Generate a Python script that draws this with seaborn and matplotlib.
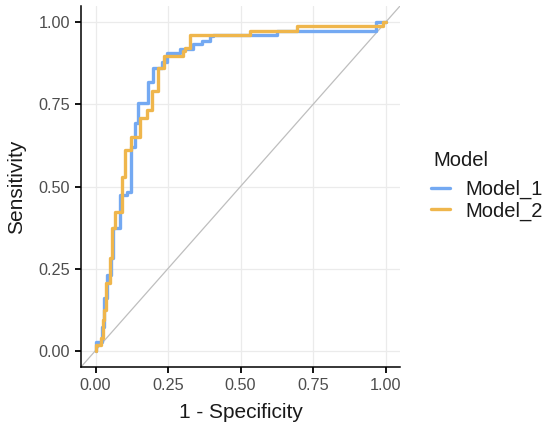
import matplotlib
matplotlib.use("Agg")
import matplotlib.pyplot as plt
import seaborn as sns
import pandas as pd

# ROC step vertices (1 - specificity, sensitivity)
m1_fpr = [0.0, 0.0, 0.022, 0.022, 0.029, 0.029, 0.039, 0.039, 0.053, 0.053,
          0.060, 0.060, 0.086, 0.086, 0.108, 0.108, 0.122, 0.122, 0.136, 0.136,
          0.146, 0.146, 0.180, 0.180, 0.198, 0.198, 0.229, 0.229, 0.246, 0.246,
          0.291, 0.291, 0.336, 0.336, 0.367, 0.367, 0.394, 0.394, 0.405, 0.405,
          0.625, 0.625, 0.967, 0.967, 1.0]
m1_tpr = [0.0, 0.026, 0.026, 0.072, 0.072, 0.160, 0.160, 0.230, 0.230, 0.282,
          0.282, 0.373, 0.373, 0.473, 0.473, 0.482, 0.482, 0.619, 0.619, 0.695,
          0.695, 0.753, 0.753, 0.817, 0.817, 0.862, 0.862, 0.878, 0.878, 0.908,
          0.908, 0.920, 0.920, 0.935, 0.935, 0.944, 0.944, 0.960, 0.960, 0.963,
          0.963, 0.975, 0.975, 1.0, 1.0]

m2_fpr = [0.0, 0.0, 0.018, 0.018, 0.025, 0.025, 0.030, 0.030, 0.036, 0.036,
          0.049, 0.049, 0.058, 0.058, 0.068, 0.068, 0.091, 0.091, 0.103, 0.103,
          0.124, 0.124, 0.153, 0.153, 0.177, 0.177, 0.194, 0.194, 0.215, 0.215,
          0.236, 0.236, 0.301, 0.301, 0.308, 0.308, 0.325, 0.325, 0.532, 0.532,
          0.695, 0.695, 0.991, 0.991, 1.0]
m2_tpr = [0.0, 0.017, 0.017, 0.039, 0.039, 0.093, 0.093, 0.124, 0.124, 0.206,
          0.206, 0.282, 0.282, 0.373, 0.373, 0.422, 0.422, 0.528, 0.528, 0.610,
          0.610, 0.650, 0.650, 0.710, 0.710, 0.732, 0.732, 0.792, 0.792, 0.862,
          0.862, 0.899, 0.899, 0.914, 0.914, 0.923, 0.923, 0.963, 0.963, 0.975,
          0.975, 0.988, 0.988, 1.0, 1.0]

models = ["Model_1", "Model_2"]
colors = ["#74A9F2", "#EFB64C"]
ticks = [0.0, 0.25, 0.5, 0.75, 1.0]
tick_labels = ["0.00", "0.25", "0.50", "0.75", "1.00"]

df = pd.concat([
    pd.DataFrame({"fpr": m1_fpr, "tpr": m1_tpr, "Model": models[0]}),
    pd.DataFrame({"fpr": m2_fpr, "tpr": m2_tpr, "Model": models[1]}),
])

sns.set_theme(style="white")
plt.rcParams["font.family"] = ["Liberation Sans", "DejaVu Sans"]

fig = plt.figure(figsize=(5.5, 4.36), dpi=100)
ax = fig.add_axes([81 / 550, 1 - 367 / 436, 319 / 550, 361 / 436])

# reference diagonal
ax.axline((0, 0), (1, 1), color="#BEBEBE", lw=0.9, zorder=1)

sns.lineplot(data=df, x="fpr", y="tpr", hue="Model", palette=colors,
             sort=False, estimator=None, units="Model", lw=2.4, ax=ax,
             zorder=3)

ax.set_xlim(-0.05, 1.05)
ax.set_ylim(-0.05, 1.05)
ax.set_xticks(ticks)
ax.set_xticklabels(tick_labels)
ax.set_yticks(ticks)
ax.set_yticklabels(tick_labels)
ax.grid(True, color="#EBEBEB", lw=0.9)
ax.set_axisbelow(True)

for side in ["top", "right"]:
    ax.spines[side].set_visible(False)
for side in ["left", "bottom"]:
    ax.spines[side].set_color("black")
    ax.spines[side].set_linewidth(1.1)

ax.tick_params(axis="both", which="major", length=4, width=1.3, color="black",
               labelsize=11.7, labelcolor="#4D4D4D", pad=4, left=True, bottom=True)

ax.set_xlabel("1 - Specificity", fontsize=15, color="#1A1A1A", labelpad=7)
ax.set_ylabel("Sensitivity", fontsize=15, color="#1A1A1A", labelpad=9)

ax.legend_.remove()
handles, labels = ax.get_legend_handles_labels()
leg = fig.legend(handles, labels, loc="upper left",
                 bbox_to_anchor=(431 / 550, 1 - 180 / 436), frameon=False,
                 fontsize=14.5, handlelength=0.95,
                 handletextpad=0.75, labelspacing=0.1, borderpad=0,
                 borderaxespad=0)
for line in leg.get_lines():
    line.set_linewidth(2.4)
for t in leg.get_texts():
    t.set_color("#1A1A1A")
fig.text(433 / 550, 1 - 160 / 436, "Model", fontsize=14.5, color="#1A1A1A",
         ha="left", va="center")

fig.savefig("out.png", dpi=100)
